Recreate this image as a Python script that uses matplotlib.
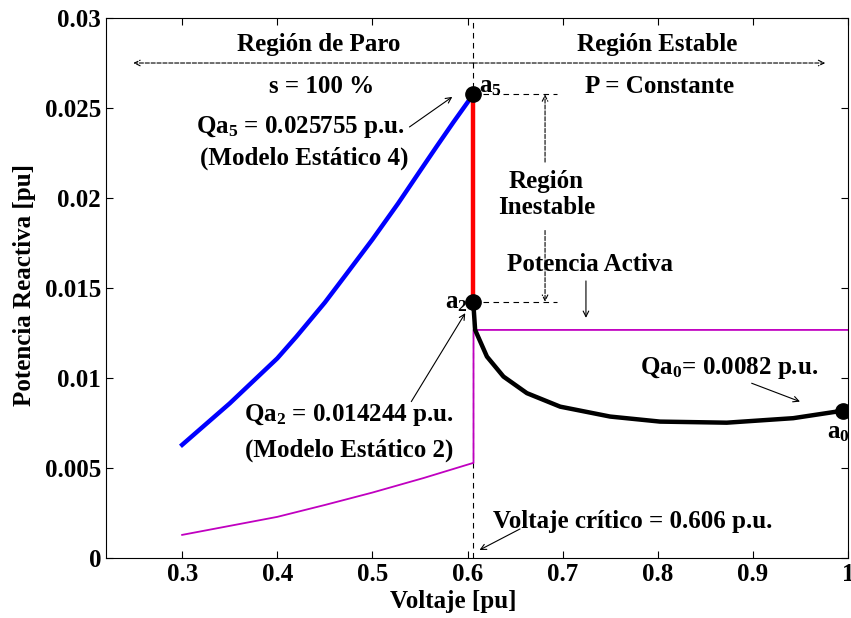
import matplotlib.pyplot as plt

# Curva de paro (azul), Qa vs V
v_paro = [0.30, 0.35, 0.40, 0.42, 0.45, 0.4715, 0.50, 0.527, 0.55, 0.568, 0.585, 0.606]
q_paro = [0.0063, 0.0086, 0.0111, 0.0123, 0.0142, 0.0157, 0.0177, 0.0197, 0.0215, 0.0229, 0.0242, 0.025755]

# Curva estable (negra)
v_est = [0.606, 0.608, 0.6204, 0.6378, 0.6624, 0.6974, 0.7499, 0.8024, 0.8725, 0.9424, 0.995]
q_est = [0.014244, 0.01268, 0.0112, 0.01009, 0.00917, 0.00842, 0.00787, 0.00759, 0.00753, 0.00778, 0.0082]

# Potencia activa (magenta)
v_p = [0.30, 0.35, 0.40, 0.45, 0.50, 0.554, 0.60, 0.6063, 0.6063, 1.0]
p_act = [0.0013, 0.0018, 0.0023, 0.00296, 0.00365, 0.00446, 0.0052, 0.0053, 0.01268, 0.01268]

v_crit = 0.606
q_a5 = 0.025755
q_a2 = 0.014244
v_a0, q_a0 = 0.995, 0.0082

xticks = [0.3, 0.4, 0.5, 0.6, 0.7, 0.8, 0.9, 1.0]
xticklabels = ["0.3", "0.4", "0.5", "0.6", "0.7", "0.8", "0.9", "1"]
yticks = [0, 0.005, 0.01, 0.015, 0.02, 0.025, 0.03]
yticklabels = ["0", "0.005", "0.01", "0.015", "0.02", "0.025", "0.03"]

plt.rcParams["font.family"] = ["Liberation Serif", "DejaVu Serif"]
plt.rcParams["font.weight"] = "bold"
plt.rcParams["mathtext.fontset"] = "custom"
plt.rcParams["mathtext.rm"] = "Liberation Serif:bold"
plt.rcParams["mathtext.it"] = "Liberation Serif:bold"
plt.rcParams["mathtext.bf"] = "Liberation Serif:bold"

fig = plt.figure(figsize=(8.51, 6.18), dpi=100)
ax = fig.add_axes([0.1246, 0.0966, 0.8719, 0.8743])

fs = 18
dash = (0, (5, 4))
arrow_kw = dict(arrowstyle="->", linewidth=0.8, color="k", shrinkA=0, shrinkB=0)
dash_arrow_kw = dict(arrowstyle="->", linestyle="--", linewidth=0.8, color="k",
                     shrinkA=0, shrinkB=0)

# linea vertical del voltaje critico
ax.plot([v_crit, v_crit], [0, 0.03], color="k", linestyle=dash, linewidth=0.8, zorder=1)

ax.plot(v_p, p_act, color="#c000c0", linewidth=1.3, zorder=2)
ax.plot(v_paro, q_paro, color="#0000ff", linewidth=3.2, zorder=3)
ax.plot([v_crit, v_crit], [q_a2, q_a5], color="#ff0000", linewidth=3.2, zorder=3)
ax.plot(v_est, q_est, color="k", linewidth=3.2, zorder=3)
ax.plot([v_crit, v_crit, v_a0], [q_a5, q_a2, q_a0], "o", color="k", markersize=11, zorder=4)

# flechas de regiones
ax.annotate("", xy=(0.2487, 0.0275), xytext=(v_crit, 0.0275), arrowprops=dash_arrow_kw)
ax.annotate("", xy=(0.976, 0.0275), xytext=(v_crit, 0.0275), arrowprops=dash_arrow_kw)

# region inestable
ax.plot([v_crit, 0.694], [q_a5, q_a5], color="k", linestyle=dash, linewidth=0.8)
ax.plot([v_crit, 0.694], [q_a2, q_a2], color="k", linestyle=dash, linewidth=0.8)
ax.annotate("", xy=(0.6815, q_a5), xytext=(0.6815, 0.0220), arrowprops=dash_arrow_kw)
ax.annotate("", xy=(0.6815, q_a2), xytext=(0.6815, 0.0182), arrowprops=dash_arrow_kw)

ax.text(0.444, 0.0285, "Región de Paro", ha="center", va="center", fontsize=fs)
ax.text(0.447, 0.0262, "s = 100 %", ha="center", va="center", fontsize=fs)
ax.text(0.7995, 0.0285, "Región Estable", ha="center", va="center", fontsize=fs)
ax.text(0.802, 0.0262, "P = Constante", ha="center", va="center", fontsize=fs)
ax.text(0.683, 0.0202, "Región\nInestable", ha="center", va="center", fontsize=fs,
        linespacing=1.2)
ax.text(0.7285, 0.0163, "Potencia Activa", ha="center", va="center", fontsize=fs)
ax.annotate("", xy=(0.7245, 0.01335), xytext=(0.7245, 0.0154), arrowprops=arrow_kw)

ax.text(0.6125, 0.0262, "a$_5$", ha="left", va="center", fontsize=fs)
ax.text(0.6005, 0.0142, "a$_2$", ha="right", va="center", fontsize=fs)
ax.text(0.99, 0.0070, "a$_0$", ha="center", va="center", fontsize=fs)

ax.text(0.4237, 0.02396, "Qa$_5$ = 0.025755 p.u.", ha="center", va="center", fontsize=fs)
ax.text(0.4280, 0.02222, "(Modelo Estático 4)", ha="center", va="center", fontsize=fs)
ax.annotate("", xy=(0.584, 0.02562), xytext=(0.539, 0.02395), arrowprops=arrow_kw)

ax.text(0.4754, 0.00796, "Qa$_2$ = 0.014244 p.u.", ha="center", va="center", fontsize=fs)
ax.text(0.4754, 0.00602, "(Modelo Estático 2)", ha="center", va="center", fontsize=fs)
ax.annotate("", xy=(0.5976, 0.01361), xytext=(0.5409, 0.0087), arrowprops=arrow_kw)

ax.text(0.875, 0.01057, "Qa$_0$= 0.0082 p.u.", ha="center", va="center", fontsize=fs)
ax.annotate("", xy=(0.9495, 0.0087), xytext=(0.8987, 0.00972), arrowprops=arrow_kw)

ax.text(0.7735, 0.00203, "Voltaje crítico = 0.606 p.u.", ha="center", va="center", fontsize=fs)
ax.annotate("", xy=(0.6126, 0.00046), xytext=(0.6552, 0.00163), arrowprops=arrow_kw)

ax.set_xlim(0.22, 1.0)
ax.set_ylim(0, 0.03)
ax.set_xticks(xticks)
ax.set_xticklabels(xticklabels)
ax.set_yticks(yticks)
ax.set_yticklabels(yticklabels)
ax.tick_params(direction="in", top=True, right=True, labelsize=fs, length=5, width=0.8)
for s in ax.spines.values():
    s.set_linewidth(0.8)

ax.set_xlabel("Voltaje [pu]", fontsize=fs, fontweight="bold")
ax.set_ylabel("Potencia Reactiva [pu]", fontsize=fs, fontweight="bold")
ax.xaxis.set_label_coords((453 - 106) / 742, -0.0587)
ax.yaxis.set_label_coords(-0.094, 0.505)

fig.savefig("out.png", dpi=100)
